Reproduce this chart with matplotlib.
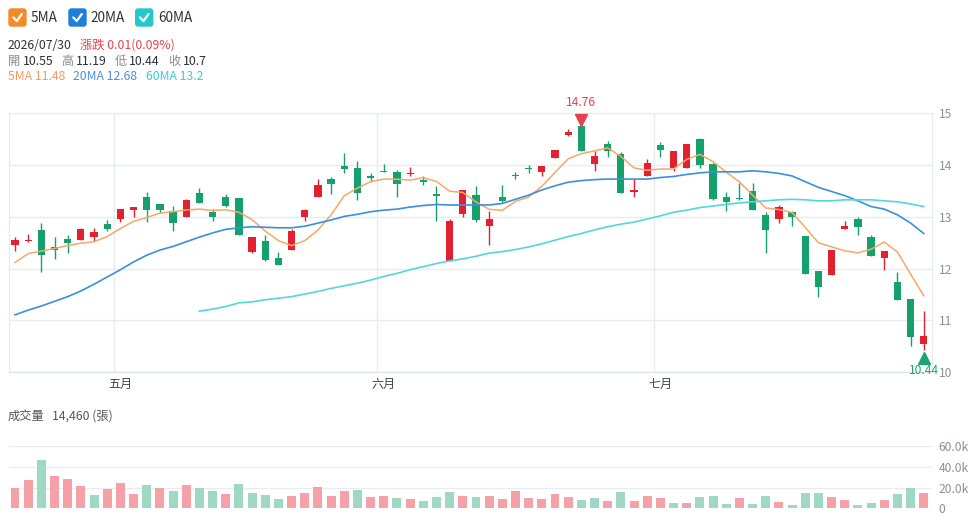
import numpy as np
import pandas as pd
import matplotlib
matplotlib.use("Agg")
import matplotlib.pyplot as plt
import matplotlib.transforms as mtransforms
from matplotlib.patches import FancyBboxPatch
from matplotlib.lines import Line2D

plt.rcParams['font.family'] = ['Noto Sans CJK TC', 'DejaVu Sans']

# ---- data ----
opens = [12.46, 12.53, 12.75, 12.42, 12.57, 12.55, 12.62, 12.86, 12.95, 13.13,
         13.39, 13.24, 13.11, 12.99, 13.47, 13.09, 13.38, 13.37, 12.32, 12.53,
         12.21, 12.37, 12.99, 13.39, 13.73, 13.98, 13.95, 13.79, 13.89, 13.87,
         13.82, 13.70, 13.44, 12.15, 13.06, 13.42, 12.82, 13.39, 13.80, 13.94,
         13.87, 14.14, 14.59, 14.75, 14.03, 14.41, 14.22, 13.48, 13.79, 14.38,
         13.95, 13.95, 14.50, 14.03, 13.38, 13.37, 13.50, 13.03, 12.95, 13.09,
         12.63, 11.96, 11.87, 12.76, 12.95, 12.61, 12.21, 11.74, 11.41, 10.55]
highs = [12.61, 12.67, 12.88, 12.62, 12.65, 12.79, 12.78, 12.94, 13.15, 13.20,
         13.48, 13.25, 13.21, 13.35, 13.55, 13.16, 13.44, 13.37, 12.61, 12.66,
         12.33, 12.77, 13.15, 13.73, 13.77, 14.23, 14.08, 13.84, 14.03, 13.90,
         13.97, 13.78, 13.59, 12.96, 13.52, 13.60, 13.11, 13.62, 13.86, 14.01,
         13.99, 14.30, 14.69, 14.76, 14.27, 14.46, 14.25, 13.73, 14.12, 14.45,
         14.28, 14.40, 14.53, 14.05, 13.48, 13.66, 13.66, 13.09, 13.23, 13.11,
         12.63, 11.96, 12.36, 12.92, 12.99, 12.66, 12.34, 11.94, 11.41, 11.19]
lows = [12.35, 12.52, 11.93, 12.18, 12.30, 12.55, 12.54, 12.72, 12.90, 12.99,
        12.90, 13.07, 12.72, 12.99, 13.27, 12.93, 13.19, 12.65, 12.30, 12.15,
        12.08, 12.37, 12.93, 13.39, 13.45, 13.84, 13.32, 13.68, 13.86, 13.39,
        13.79, 13.62, 12.93, 12.15, 12.99, 12.90, 12.46, 13.28, 13.73, 13.85,
        13.78, 14.14, 14.56, 14.28, 13.89, 14.16, 13.47, 13.39, 13.79, 14.16,
        13.89, 13.94, 13.95, 13.33, 13.12, 13.33, 13.13, 12.30, 12.88, 12.83,
        11.90, 11.45, 11.87, 12.76, 12.66, 12.25, 11.98, 11.40, 10.50, 10.44]
closes = [12.55, 12.56, 12.26, 12.37, 12.50, 12.77, 12.70, 12.76, 13.15, 13.19,
          13.13, 13.14, 12.89, 13.32, 13.27, 13.00, 13.21, 12.65, 12.61, 12.16,
          12.08, 12.73, 13.13, 13.62, 13.64, 13.93, 13.46, 13.76, 13.86, 13.63,
          13.85, 13.68, 13.40, 12.92, 13.51, 12.94, 12.96, 13.31, 13.78, 13.92,
          13.99, 14.29, 14.63, 14.28, 14.18, 14.28, 13.47, 13.52, 14.05, 14.30,
          14.28, 14.40, 14.00, 13.35, 13.29, 13.34, 13.13, 12.75, 13.20, 13.00,
          11.90, 11.65, 12.36, 12.82, 12.80, 12.25, 12.34, 11.40, 10.69, 10.70]
# closes of the 4 sessions just before the visible window (for the 5MA)
prev_closes = [11.71, 12.01, 12.12, 12.21]

volumes = [19600, 27600, 46200, 31100, 27900, 21800, 12500, 18300, 24400, 13800,
           22800, 19600, 17000, 22500, 19300, 16700, 14100, 23800, 14400, 12500,
           9300, 12200, 15100, 20900, 12200, 17000, 17300, 11200, 11600, 9600,
           9000, 6700, 11200, 15700, 11900, 11200, 11900, 9000, 17000, 10300,
           9300, 13800, 10900, 8000, 10000, 6700, 15700, 7100, 11900, 10300,
           5500, 5500, 10600, 11600, 4500, 10300, 4200, 11600, 6100, 2900,
           15100, 15100, 10900, 8000, 2900, 5500, 8300, 14100, 19300, 14460]

ma20 = [11.11, 11.20, 11.28, 11.37, 11.46, 11.57, 11.70, 11.84, 11.98, 12.13,
        12.26, 12.36, 12.43, 12.52, 12.61, 12.69, 12.76, 12.79, 12.81, 12.80,
        12.79, 12.79, 12.82, 12.88, 12.94, 13.01, 13.05, 13.10, 13.13, 13.15,
        13.19, 13.22, 13.24, 13.23, 13.23, 13.23, 13.23, 13.26, 13.34, 13.42,
        13.52, 13.60, 13.67, 13.70, 13.72, 13.73, 13.73, 13.73, 13.73, 13.76,
        13.78, 13.82, 13.85, 13.87, 13.87, 13.87, 13.89, 13.87, 13.84, 13.79,
        13.68, 13.57, 13.49, 13.41, 13.31, 13.20, 13.15, 13.04, 12.88, 12.68]
ma60 = [np.nan] * 14 + [
        11.18, 11.22, 11.27, 11.34, 11.36, 11.40,
        11.43, 11.46, 11.51, 11.56, 11.62, 11.67, 11.72, 11.78, 11.85, 11.91,
        11.98, 12.04, 12.10, 12.15, 12.19, 12.24, 12.30, 12.33, 12.37, 12.42,
        12.48, 12.55, 12.62, 12.68, 12.75, 12.81, 12.86, 12.90, 12.96, 13.02,
        13.09, 13.13, 13.18, 13.21, 13.24, 13.27, 13.29, 13.31, 13.33, 13.34,
        13.33, 13.31, 13.31, 13.33, 13.33, 13.33, 13.31, 13.29, 13.25, 13.20]

month_labels = ['五月', '六月', '七月']
month_first_idx = [8, 28, 49]

# ---- colours ----
UP = '#e3202f'
DOWN = '#16a06c'
VOL_UP = '#f4a2a7'
VOL_DOWN = '#9fd8c3'
C5 = '#f7a868'
C20 = '#3b8fe0'
C60 = '#52d8db'
GRID = '#e9ebf1'
TICK = '#8c9099'

o = np.array(opens)
h = np.array(highs)
l = np.array(lows)
c = np.array(closes)
v = np.array(volumes)
x = np.arange(len(c))

ma5 = pd.Series(prev_closes + closes).rolling(5).mean().values[4:]

W, H = 978, 527
fig = plt.figure(figsize=(W / 100, H / 100), dpi=100)

def fx(px):
    return px / W

def fy(py):
    return 1 - py / H

left, right = 9, 931.7
ax = fig.add_axes([fx(left), fy(372.3), fx(right - left), fy(113.3) - fy(372.3)])
axv = fig.add_axes([fx(left), fy(508.3), fx(right - left), fy(446) - fy(508.3)], sharex=ax)

# ---- price pane ----
up = c >= o
col = np.where(up, UP, DOWN)
body_lo = np.minimum(o, c)
body_h = np.maximum(np.abs(c - o), 0.03)
ax.vlines(x, l, h, colors=col, linewidth=1.0, zorder=3)
ax.bar(x, body_h, bottom=body_lo, width=0.55, color=col, linewidth=0, zorder=4)

ax.plot(x, ma5, color=C5, linewidth=1.1, zorder=5)
ax.plot(x, ma20, color=C20, linewidth=1.2, zorder=5)
ax.plot(x, ma60, color=C60, linewidth=1.2, zorder=5)

ax.set_xlim(-0.456, 69.6)
ax.set_ylim(10, 15)
ax.set_yticks([10, 11, 12, 13, 14, 15])
ax.yaxis.tick_right()
ax.tick_params(axis='y', length=0, pad=5, labelsize=8.7, labelcolor=TICK)
ax.grid(axis='y', color=GRID, linewidth=1.0)
for mi in month_first_idx:
    ax.axvline(mi - 0.5, color=GRID, linewidth=1.0, zorder=0)
ax.set_xticks(month_first_idx)
ax.set_xticklabels(month_labels)
ax.tick_params(axis='x', length=0, pad=4, labelsize=8.7, labelcolor='#444444')
for s in ['top', 'right', 'left']:
    ax.spines[s].set_color(GRID)
ax.spines['bottom'].set_color('#dde1ea')
ax.set_axisbelow(True)

# max / min markers
imax = int(np.argmax(h))
imin = int(np.argmin(l))
up_off = mtransforms.offset_copy(ax.transData, fig=fig, x=0, y=6, units='dots')
ax.plot(imax, h[imax], marker='v', markersize=8, color='#e8404c', transform=up_off,
        clip_on=False, zorder=6)
ax.annotate(f'{h[imax]:.2f}', (imax, h[imax]), xytext=(0, 23), textcoords='offset pixels',
            ha='center', va='center', fontsize=8.7, color='#e8404c', annotation_clip=False)
dn_off = mtransforms.offset_copy(ax.transData, fig=fig, x=0, y=-8, units='dots')
ax.plot(imin, l[imin], marker='^', markersize=8, color='#1aa572', transform=dn_off,
        clip_on=False, zorder=6)
ax.annotate(f'{l[imin]:.2f}', (imin, l[imin]), xytext=(0, -21), textcoords='offset pixels',
            ha='center', va='center', fontsize=8.7, color='#1aa572', annotation_clip=False)

# ---- volume pane ----
prev = np.concatenate([[prev_closes[-1]], c[:-1]])
vcol = np.where(c >= prev, VOL_UP, VOL_DOWN)
axv.bar(x, v, width=0.68, color=vcol, linewidth=0, zorder=3)
axv.set_ylim(0, 60000)
axv.set_yticks([0, 20000, 40000, 60000])
axv.set_yticklabels(['0', '20.0k', '40.0k', '60.0k'])
axv.yaxis.tick_right()
axv.tick_params(axis='y', length=0, pad=5, labelsize=8.7, labelcolor=TICK)
axv.tick_params(axis='x', length=0, labelbottom=False)
axv.grid(axis='y', color=GRID, linewidth=1.0)
for s in ['top', 'right', 'left', 'bottom']:
    axv.spines[s].set_visible(False)
axv.set_axisbelow(True)

# ---- header ----
legend_items = [('5MA', '#f28b2c', 8.3, 31), ('20MA', '#1d7fd8', 68.3, 90.7),
                ('60MA', '#23c9cc', 135, 158.3)]
for name, colr, bx, tx in legend_items:
    box = FancyBboxPatch((bx / 100, (H - 26.7) / 100), 0.184, 0.184,
                         boxstyle='round,pad=0,rounding_size=0.03',
                         transform=fig.dpi_scale_trans, facecolor=colr, edgecolor='none')
    fig.patches.append(box)
    ck = Line2D([(bx + 5) / 100, (bx + 8.5) / 100, (bx + 13.5) / 100],
                [(H - 17.5) / 100, (H - 21) / 100, (H - 14) / 100],
                transform=fig.dpi_scale_trans, color='white', linewidth=1.6,
                solid_capstyle='round', solid_joinstyle='round')
    fig.lines.append(ck)
    fig.text(fx(tx), fy(17.5), name, fontsize=9.8, color='#333333', va='center')

fig.text(fx(8), fy(45.5), '2026/07/30', fontsize=8.8, color='#333333', va='center')
fig.text(fx(80), fy(45.5), '漲跌 0.01(0.09%)', fontsize=8.8, color='#e5434f', va='center')

row3 = [('開', 8, '#8c8c8c'), ('10.55', 22.7, '#2b2f3a'), ('高', 61.7, '#8c8c8c'),
        ('11.19', 76, '#2b2f3a'), ('低', 115, '#8c8c8c'), ('10.44', 129.3, '#2b2f3a'),
        ('收', 168.3, '#8c8c8c'), ('10.7', 183.3, '#2b2f3a')]
for t, px, colr in row3:
    fig.text(fx(px), fy(61.5), t, fontsize=8.8, color=colr, va='center')

row4 = [('5MA 11.48', 8, '#f59a5c'), ('20MA 12.68', 72.7, '#4a8fe3'),
        ('60MA 13.2', 145.7, '#3ccbd3')]
for t, px, colr in row4:
    fig.text(fx(px), fy(77), t, fontsize=8.8, color=colr, va='center')

fig.text(fx(8), fy(416.5), '成交量', fontsize=8.8, color='#555555', va='center')
fig.text(fx(51.7), fy(416.5), '14,460 (張)', fontsize=8.8, color='#555555', va='center')

fig.savefig('out.png', dpi=100)
